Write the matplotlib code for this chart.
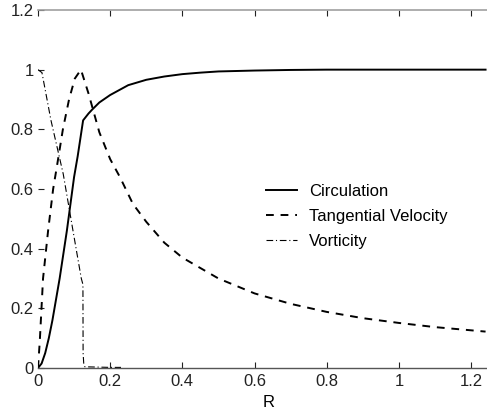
import matplotlib
matplotlib.use("Agg")
import matplotlib.pyplot as plt

plt.rcParams['font.family'] = ['Liberation Sans', 'DejaVu Sans']

# circulation
r_circ = [0, 0.01, 0.02, 0.03, 0.04, 0.05, 0.06, 0.07, 0.08, 0.09, 0.1, 0.11, 0.125,
          0.14, 0.15, 0.17, 0.2, 0.25, 0.3, 0.35, 0.4, 0.45, 0.5, 0.6, 0.7, 0.8, 1.0, 1.24]
circ = [0, 0.015, 0.05, 0.1, 0.16, 0.23, 0.3, 0.38, 0.46, 0.55, 0.64, 0.71, 0.83,
        0.853, 0.866, 0.89, 0.915, 0.948, 0.966, 0.977, 0.985, 0.99, 0.994, 0.997, 0.999, 1.0, 1.0, 1.0]

# tangential velocity
r_vel = [0, 0.005, 0.014, 0.028, 0.042, 0.053, 0.069, 0.086, 0.102, 0.119, 0.14, 0.17,
         0.2, 0.227, 0.263, 0.3, 0.35, 0.4, 0.5, 0.6, 0.7, 0.8, 0.9, 1.0, 1.1, 1.24]
vel = [0, 0.09, 0.3, 0.46, 0.6, 0.68, 0.8, 0.9, 0.97, 1.0, 0.92, 0.79,
       0.7, 0.64, 0.55, 0.49, 0.42, 0.37, 0.3, 0.25, 0.215, 0.188, 0.167, 0.151, 0.137, 0.122]

# vorticity
r_vort = [0, 0.011, 0.036, 0.07, 0.097, 0.12, 0.1245, 0.125, 0.127, 0.13, 0.2, 0.23]
vort = [1.0, 0.99, 0.83, 0.65, 0.46, 0.3, 0.28, 0.05, 0.01, 0.004, 0.002, 0.002]

fig = plt.figure(figsize=(4.87, 4.16), dpi=100)
ax = fig.add_axes([0.078, 0.1154, 0.9487, 0.8606])

ax.plot(r_circ, circ, color='k', linewidth=1.4, label='Circulation')
ax.plot(r_vel, vel, color='k', linewidth=1.4, linestyle=(0, (4, 3.5)), label='Tangential Velocity')
ax.plot(r_vort, vort, color='k', linewidth=0.8, linestyle=(0, (6, 2.5, 1, 2.5)), label='Vorticity')

ax.set_xlim(0, 1.28)
ax.set_ylim(0, 1.2)
ax.set_xticks([0, 0.2, 0.4, 0.6, 0.8, 1.0, 1.2])
ax.set_xticklabels(['0', '0.2', '0.4', '0.6', '0.8', '1', '1.2'])
ax.set_yticks([0, 0.2, 0.4, 0.6, 0.8, 1.0, 1.2])
ax.set_yticklabels(['0', '0.2', '0.4', '0.6', '0.8', '1', '1.2'])
ax.tick_params(direction='in', length=4, width=0.8, labelsize=12, pad=3,
               top=True, right=True, colors='#222222')
ax.tick_params(axis='x', pad=4)
ax.set_xlabel('R', fontsize=12, labelpad=5)

ax.spines['left'].set_visible(False)
ax.spines['top'].set_color('#a0a0a0')
ax.spines['bottom'].set_color('#555555')
ax.spines['top'].set_linewidth(1.2)
ax.spines['bottom'].set_linewidth(1.0)

ax.legend(loc='upper left', bbox_to_anchor=(266 / 487, 1 - 184 / 416),
          bbox_transform=fig.transFigure, frameon=False, fontsize=12,
          handlelength=1.85, handletextpad=0.75, labelspacing=0.6,
          borderpad=0, borderaxespad=0)

fig.savefig('out.png', dpi=100)
